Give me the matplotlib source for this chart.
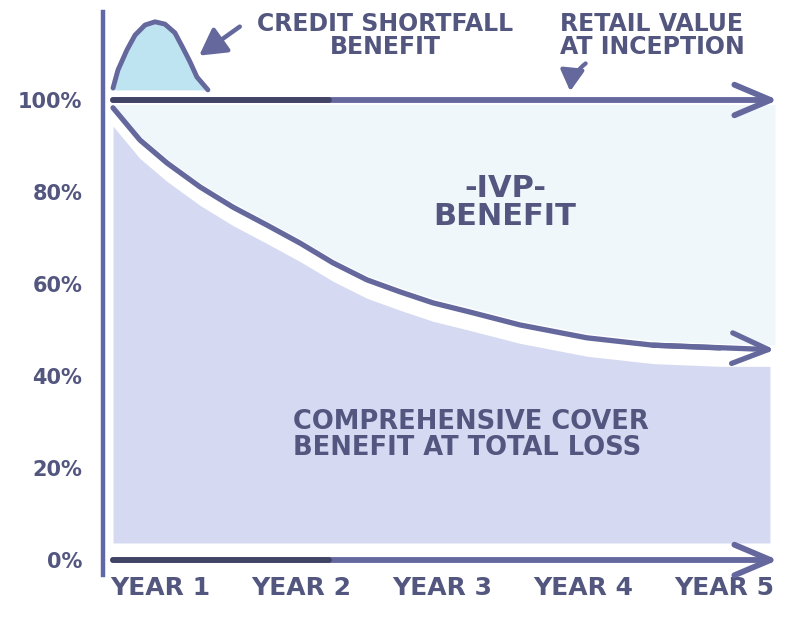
import matplotlib.pyplot as plt
import numpy as np

# Valores
years = ['YEAR 1', 'YEAR 2', 'YEAR 3', 'YEAR 4', 'YEAR 5']
year_pos = [1, 2, 3, 4, 5]
pct_ticks = [0, 20, 40, 60, 80, 100]
pct_labels = ['0%', '20%', '40%', '60%', '80%', '100%']

# Curva del valor del vehiculo (cobertura total)
curve_x = [0.667, 0.858, 1.05, 1.284, 1.518, 1.759, 1.993, 2.227, 2.468,
           2.702, 2.936, 3.199, 3.553, 4.028, 4.496, 4.972, 5.362]
curve_y = [98.3, 91.3, 86.3, 81.1, 76.7, 72.8, 68.9, 64.6, 60.9,
           58.3, 55.9, 53.9, 51.1, 48.3, 46.7, 46.1, 45.7]

# Joroba del "credit shortfall"
hump_x = [0.667, 0.702, 0.766, 0.823, 0.894, 0.965, 1.035, 1.106, 1.163, 1.213, 1.262, 1.340]
hump_y = [102.6, 106.5, 110.9, 114.1, 116.3, 117.0, 116.5, 114.6, 111.3, 108.3, 105.0, 102.2]

retail_value = 100
x_start, x_end = 0.667, 5.383

line_col = '#64689C'
dark_col = '#424466'
text_col = '#53567E'

fig = plt.figure(figsize=(7.87, 6.23), dpi=100)
ax = fig.add_axes([103 / 787, (623 - 575) / 623, (787 - 103) / 787, (575 - 12) / 623])
ax.set_xlim(0.596, 5.447)
ax.set_ylim((560 - 575) / 4.6, (560 - 12) / 4.6)

# Zonas coloreadas
cx = np.array(curve_x)
cy = np.array(curve_y)
ax.fill_between(cx, cy + 1.0, 99, color='#EFF7FB', lw=0)
mask = cx <= 5.33
ax.fill_between(np.append(cx[mask], 5.326), np.append(cy[mask] - 4, cy[mask][-1] - 4), 3.7,
                color='#D5DAF2', lw=0)
ax.fill_between(hump_x, hump_y, 102.2, color='#BFE4F1', lw=0)

# Lineas
ax.plot(hump_x, hump_y, color=line_col, lw=3.5, solid_capstyle='round', solid_joinstyle='round')
ax.plot(curve_x[:-1], curve_y[:-1], color=line_col, lw=3.8, solid_capstyle='round',
        solid_joinstyle='round')
ax.annotate('', xy=(curve_x[-1], curve_y[-1]), xytext=(curve_x[-3], curve_y[-3]),
            arrowprops=dict(arrowstyle='->,head_length=1.3,head_width=0.55',
                            mutation_scale=20, lw=3.8, color=line_col,
                            shrinkA=0, shrinkB=0))

for yv in [retail_value, 0]:
    ax.annotate('', xy=(x_end, yv), xytext=(x_start, yv),
                arrowprops=dict(arrowstyle='->,head_length=1.3,head_width=0.55',
                                mutation_scale=20, lw=4.2, color=line_col,
                                shrinkA=0, shrinkB=0))
    ax.plot([x_start, 2.2], [yv, yv], color=dark_col, lw=4.2, solid_capstyle='round', zorder=4)

# Ejes
for s in ['top', 'right', 'bottom']:
    ax.spines[s].set_visible(False)
ax.spines['left'].set_color('#6068A6')
ax.spines['left'].set_linewidth(3.2)
ax.set_xticks(year_pos)
ax.set_xticklabels(years, fontsize=18, fontweight='bold', color=text_col)
ax.set_yticks(pct_ticks)
ax.set_yticklabels(pct_labels, fontsize=15, fontweight='bold', color=text_col)
ax.tick_params(axis='both', length=0)
ax.tick_params(axis='y', pad=15)
ax.tick_params(axis='x', pad=1)

# Textos
ax.text(2.596, 114.1, 'CREDIT SHORTFALL\nBENEFIT', ha='center', va='center',
        fontsize=17, fontweight='bold', color=text_col, linespacing=0.95)
ax.text(4.489, 114.1, 'RETAIL VALUE\nAT INCEPTION', ha='center', va='center',
        fontsize=17, fontweight='bold', color=text_col, linespacing=0.95)
ax.text(3.447, 77.8, '-IVP-\nBENEFIT', ha='center', va='center',
        fontsize=22, fontweight='bold', color=text_col, linespacing=0.95)
ax.text(1.943, 27.2, 'COMPREHENSIVE COVER\nBENEFIT AT TOTAL LOSS', ha='left', va='center',
        fontsize=18.5, fontweight='bold', color=text_col, linespacing=1.0)

ax.annotate('', xy=(1.262, 109.3), xytext=(1.582, 116.3),
            arrowprops=dict(arrowstyle='-|>,head_length=0.8,head_width=0.45',
                            mutation_scale=20, lw=3.2, color=line_col))
ax.annotate('', xy=(3.908, 101.3), xytext=(4.035, 108.3),
            arrowprops=dict(arrowstyle='-|>,head_length=0.7,head_width=0.4',
                            mutation_scale=18, lw=3, color=line_col,
                            connectionstyle='arc3,rad=0.25'))

fig.savefig('out.png', dpi=100)
